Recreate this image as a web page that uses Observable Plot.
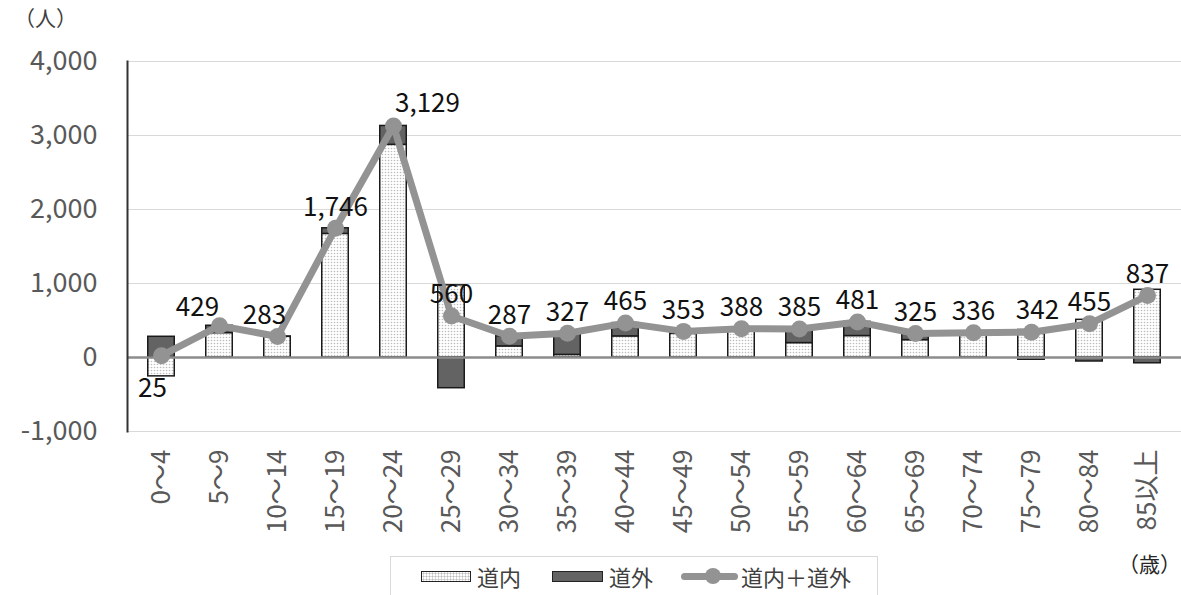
<!DOCTYPE html>
<html>
<head>
<meta charset="utf-8">
<script src="https://cdn.jsdelivr.net/npm/d3@7"></script>
<script src="https://cdn.jsdelivr.net/npm/@observablehq/plot@0.6"></script>
<style>
  body { margin: 0; background: #fff; font-family: "Noto Sans CJK JP", "Noto Sans", sans-serif; }
  #wrap { position: relative; width: 1181px; height: 595px; overflow: hidden; }
  .abs { position: absolute; }
  #legend { position: absolute; left: 390px; top: 556px; width: 488px; height: 50px; border: 1px solid #d9d9d9; box-sizing: border-box; }
  .lt { position: absolute; top: 4px; font-size: 22px; color: #404040; line-height: 30px; }
  .sw { position: absolute; top: 14px; height: 11px; box-sizing: border-box; border: 1.5px solid #222; }
</style>
</head>
<body>
<div id="wrap">
  <div class="abs" style="left:14px;top:2px;font-size:21px;color:#404040;">（人）</div>
  <div id="chart" class="abs" style="left:0;top:0;"></div>
  <div id="legend">
    <div class="sw" style="left:30px;width:50px;background-color:#fff;background-image:radial-gradient(#bdbdbd 45%, transparent 50%);background-size:3px 3px;"></div>
    <div class="lt" style="left:86px;">道内</div>
    <div class="sw" style="left:161px;width:51px;background:#636363;"></div>
    <div class="lt" style="left:218px;">道外</div>
    <div class="abs" style="left:290px;top:16px;width:57px;height:7px;border-radius:4px;background:#939393;"></div>
    <div class="abs" style="left:314px;top:11px;width:16px;height:16px;border-radius:8px;background:#939393;"></div>
    <div class="lt" style="left:350px;">道内＋道外</div>
  </div>
  <div class="abs" style="left:1118px;top:548px;font-size:21px;color:#262626;">（歳）</div>
</div>
<script>
const categories = ["0～4","5～9","10～14","15～19","20～24","25～29","30～34","35～39","40～44","45～49","50～54","55～59","60～64","65～69","70～74","75～79","80～84","85以上"];
const domestic = [-255, 330, 280, 1670, 2874, 975, 150, 35, 285, 320, 370, 195, 290, 235, 320, 372, 509, 915];
const outside  = [280, 99, 3, 76, 255, -415, 137, 292, 180, 33, 18, 190, 191, 90, 16, -30, -54, -78];
const totals   = [25, 429, 283, 1746, 3129, 560, 287, 327, 465, 353, 388, 385, 481, 325, 336, 342, 455, 837];
const yTicks = [-1000, 0, 1000, 2000, 3000, 4000];

const stacked = [];
categories.forEach((c, i) => {
  stacked.push({cat: c, type: "道内", v: domestic[i]});
  stacked.push({cat: c, type: "道外", v: outside[i]});
});
const totalData = categories.map((c, i) => ({cat: c, v: totals[i], i}));
const fmt = d => d.toLocaleString("en-US");

const normal = totalData.filter(d => ![0, 1, 2, 4, 15].includes(d.i));
const lineColor = "#939393";

const chart = Plot.plot({
  width: 1181,
  height: 552,
  marginLeft: 127,
  marginRight: 0,
  marginTop: 61,
  marginBottom: 121,
  style: {fontFamily: "'Noto Sans CJK JP', 'Noto Sans', sans-serif", background: "transparent"},
  x: {domain: categories, padding: 0, label: null},
  y: {domain: [-1000, 4000], label: null},
  color: {domain: ["道内", "道外"], range: ["url(#dots)", "#636363"]},
  marks: [
    Plot.gridY(yTicks, {stroke: "#d9d9d9", strokeOpacity: 1, strokeWidth: 1}),
    Plot.axisY({ticks: yTicks, tickFormat: fmt, tickSize: 0, tickPadding: 30, fontSize: 27, fill: "#595959", label: null}),
    Plot.axisX({tickRotate: -90, tickSize: 0, tickPadding: 18, fontSize: 26, fill: "#595959", label: null}),
    Plot.barY(stacked, {x: "cat", y: "v", fill: "type", stroke: "#1a1a1a", strokeWidth: 1.5, insetLeft: 15.75, insetRight: 15.75}),
    Plot.ruleY([0], {stroke: "#8c8c8c", strokeWidth: 2.5}),
    Plot.frame({anchor: "left", stroke: "#333", strokeWidth: 2}),
    Plot.line(totalData, {x: "cat", y: "v", stroke: lineColor, strokeWidth: 7}),
    Plot.dot(totalData, {x: "cat", y: "v", r: 8.5, fill: lineColor}),
    Plot.text(normal, {x: "cat", y: "v", text: d => fmt(d.v), dy: -21, fontSize: 26, fill: "#111"}),
    Plot.text(totalData.filter(d => d.i === 0), {x: "cat", y: "v", text: d => fmt(d.v), dx: -9, dy: 33, fontSize: 26, fill: "#111"}),
    Plot.text(totalData.filter(d => d.i === 1), {x: "cat", y: "v", text: d => fmt(d.v), dx: -22, dy: -18, fontSize: 26, fill: "#111"}),
    Plot.text(totalData.filter(d => d.i === 2), {x: "cat", y: "v", text: d => fmt(d.v), dx: -13, dy: -21, fontSize: 26, fill: "#111"}),
    Plot.text(totalData.filter(d => d.i === 4), {x: "cat", y: "v", text: d => fmt(d.v), dx: 34, dy: -22, fontSize: 26, fill: "#111"}),
    Plot.text(totalData.filter(d => d.i === 15), {x: "cat", y: "v", text: d => fmt(d.v), dx: 6, dy: -22, fontSize: 26, fill: "#111"})
  ]
});

const defs = d3.select(chart).insert("defs", ":first-child");
const pat = defs.append("pattern").attr("id", "dots").attr("width", 3).attr("height", 3).attr("patternUnits", "userSpaceOnUse");
pat.append("rect").attr("width", 3).attr("height", 3).attr("fill", "#fff");
pat.append("circle").attr("cx", 1.5).attr("cy", 1.5).attr("r", 0.8).attr("fill", "#bdbdbd");

document.getElementById("chart").appendChild(chart);
</script>
</body>
</html>
